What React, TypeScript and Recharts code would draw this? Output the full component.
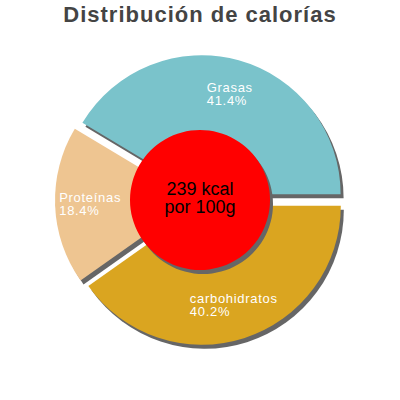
import React from 'react'
import { PieChart, Pie, Cell } from 'recharts'

// ---------------------------------------------------------------------------
// Data
// ---------------------------------------------------------------------------

const categories = ['Grasas', 'Proteínas', 'carbohidratos']
const percentages = [41.4, 18.4, 40.2]
const sliceColors = ['#7ac3cb', '#eec591', '#daa520']
const energyKcal = 239
const centerLines = [`${energyKcal} kcal`, 'por 100g']
const title = 'Distribución de calorías'

const data = categories.map((name, i) => ({ name, value: percentages[i] }))

// ---------------------------------------------------------------------------
// Layout
// ---------------------------------------------------------------------------

const W = 400
const H = 400
const CX = 200
const CY = 200
const OUTER = 139
const HOLE = 70
const EXPLODE = 6
const SHADOW_DX = 3
const SHADOW_DY = 4
const SHADOW = '#666666'
const FONT = '"Liberation Sans", Arial, sans-serif'
const LABEL_SIZE = 13
const LABEL_SPACING = 0.7
const RAD = Math.PI / 180

const total = percentages.reduce((a, b) => a + b, 0)
const midAngles = percentages.map((v, i) => {
  const before = percentages.slice(0, i).reduce((a, b) => a + b, 0)
  return ((before + v / 2) / total) * 360
})
const offsets = midAngles.map((a) => ({
  dx: Math.cos(a * RAD) * EXPLODE,
  dy: -Math.sin(a * RAD) * EXPLODE,
}))

let ctx: CanvasRenderingContext2D | null = null
function textWidth(s: string) {
  if (!ctx) ctx = document.createElement('canvas').getContext('2d')
  if (!ctx) return s.length * 7
  ctx.font = `${LABEL_SIZE}px ${FONT}`
  return ctx.measureText(s).width + LABEL_SPACING * (s.length - 1)
}

function sliceLabel(target: number) {
  return (p: any) => {
    if (p.index !== target) return null
    const r = p.outerRadius * 0.75
    const x = p.cx + r * Math.cos(-p.midAngle * RAD)
    const y = p.cy + r * Math.sin(-p.midAngle * RAD)
    const lines = [categories[target], `${percentages[target].toFixed(1)}%`]
    const w = Math.max(...lines.map(textWidth))
    return (
      <text
        fill="#ffffff"
        fontSize={LABEL_SIZE}
        fontFamily={FONT}
        letterSpacing={LABEL_SPACING}
        textAnchor="start"
      >
        <tspan x={x - w / 2} y={y - 2}>{lines[0]}</tspan>
        <tspan x={x - w / 2} y={y + 11}>{lines[1]}</tspan>
      </text>
    )
  }
}

const centerLabel = (p: any) => (
  <text fill="#000000" fontSize={18} fontFamily={FONT} textAnchor="middle">
    <tspan x={p.cx} y={p.cy - 5}>{centerLines[0]}</tspan>
    <tspan x={p.cx} y={p.cy + 13}>{centerLines[1]}</tspan>
  </text>
)

const noMargin = { top: 0, right: 0, bottom: 0, left: 0 }

export default function App() {
  return (
    <div style={{ position: 'absolute', left: 0, top: 0, width: W, height: H, background: '#fff' }}>
      <div
        style={{
          position: 'absolute',
          top: 2,
          left: 0,
          width: W,
          textAlign: 'center',
          fontFamily: FONT,
          fontWeight: 'bold',
          fontSize: 22,
          letterSpacing: 1,
          color: '#444444',
        }}
      >
        {title}
      </div>
      <PieChart width={W} height={H} margin={noMargin}>
        {/* shadows */}
        {categories.map((_, i) => (
          <Pie
            key={`s${i}`}
            data={data}
            dataKey="value"
            cx={CX + offsets[i].dx + SHADOW_DX}
            cy={CY + offsets[i].dy + SHADOW_DY}
            outerRadius={OUTER}
            stroke="none"
            isAnimationActive={false}
            labelLine={false}
          >
            {data.map((_, j) => (
              <Cell key={j} fill={j === i ? SHADOW : 'none'} />
            ))}
          </Pie>
        ))}
        {/* slices */}
        {categories.map((_, i) => (
          <Pie
            key={`p${i}`}
            data={data}
            dataKey="value"
            cx={CX + offsets[i].dx}
            cy={CY + offsets[i].dy}
            outerRadius={OUTER}
            stroke="none"
            isAnimationActive={false}
            labelLine={false}
            label={sliceLabel(i)}
          >
            {data.map((_, j) => (
              <Cell key={j} fill={j === i ? sliceColors[i] : 'none'} />
            ))}
          </Pie>
        ))}
        {/* centre disc */}
        <Pie
          data={[{ name: 'shadow', value: 1 }]}
          dataKey="value"
          cx={CX + SHADOW_DX}
          cy={CY + SHADOW_DY}
          outerRadius={HOLE}
          fill={SHADOW}
          stroke="none"
          isAnimationActive={false}
        />
        <Pie
          data={[{ name: 'kcal', value: energyKcal }]}
          dataKey="value"
          cx={CX}
          cy={CY}
          outerRadius={HOLE}
          fill="#ff0000"
          stroke="none"
          isAnimationActive={false}
          labelLine={false}
          label={centerLabel}
        />
      </PieChart>
    </div>
  )
}
